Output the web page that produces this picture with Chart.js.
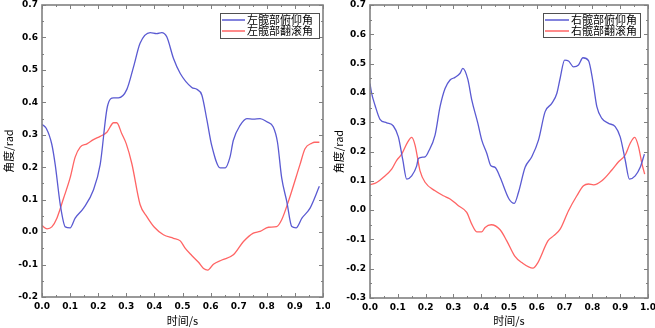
<!DOCTYPE html>
<html>
<head>
<meta charset="utf-8">
<script src="https://cdn.jsdelivr.net/npm/chart.js@4.4.1/dist/chart.umd.min.js"></script>
<style>
  html, body { margin: 0; padding: 0; background: #fff; }
  #wrap { position: relative; width: 655px; height: 328px; overflow: hidden; }
  canvas { position: absolute; top: 0; }
</style>
</head>
<body>
<div id="wrap">
  <canvas id="left" width="330" height="328" style="left:0"></canvas>
  <canvas id="right" width="325" height="328" style="left:330px"></canvas>
</div>
<script>
// left hip: pitch (blue) and roll (red)
const leftPitchT = [0, 0.015, 0.035, 0.047, 0.065, 0.083, 0.1, 0.118, 0.148, 0.183, 0.207, 0.233, 0.255, 0.272, 0.302, 0.326, 0.349, 0.385, 0.408, 0.426, 0.444, 0.468, 0.492, 0.533, 0.551, 0.569, 0.587, 0.604, 0.634, 0.652, 0.669, 0.681, 0.705, 0.729, 0.752, 0.776, 0.8, 0.823, 0.838, 0.853, 0.871, 0.889, 0.904, 0.925, 0.954, 0.987];
const leftPitch  = [0.332, 0.32, 0.27, 0.208, 0.085, 0.016, 0.013, 0.043, 0.074, 0.13, 0.208, 0.388, 0.414, 0.414, 0.44, 0.51, 0.582, 0.615, 0.612, 0.615, 0.602, 0.535, 0.489, 0.446, 0.44, 0.422, 0.345, 0.267, 0.198, 0.198, 0.231, 0.283, 0.329, 0.35, 0.348, 0.35, 0.34, 0.324, 0.277, 0.167, 0.095, 0.017, 0.013, 0.043, 0.074, 0.141];
const leftRollT = [0, 0.018, 0.035, 0.053, 0.077, 0.1, 0.118, 0.136, 0.16, 0.183, 0.207, 0.231, 0.255, 0.266, 0.284, 0.3, 0.32, 0.349, 0.373, 0.4, 0.432, 0.468, 0.492, 0.51, 0.533, 0.557, 0.575, 0.59, 0.61, 0.64, 0.681, 0.717, 0.752, 0.776, 0.806, 0.835, 0.853, 0.877, 0.918, 0.936, 0.96, 0.97, 0.987];
const leftRoll  = [0.02, 0.01, 0.016, 0.043, 0.105, 0.167, 0.231, 0.262, 0.272, 0.285, 0.295, 0.308, 0.337, 0.337, 0.303, 0.272, 0.21, 0.085, 0.048, 0.015, -0.008, -0.019, -0.027, -0.05, -0.072, -0.093, -0.112, -0.117, -0.099, -0.086, -0.07, -0.029, -0.003, 0.002, 0.015, 0.017, 0.038, 0.095, 0.208, 0.257, 0.274, 0.277, 0.277];

// right hip: pitch (blue) and roll (red)
const rightPitchT = [0, 0.006, 0.018, 0.036, 0.06, 0.084, 0.102, 0.118, 0.132, 0.15, 0.168, 0.174, 0.198, 0.21, 0.234, 0.252, 0.27, 0.288, 0.306, 0.324, 0.334, 0.352, 0.366, 0.388, 0.402, 0.42, 0.435, 0.45, 0.468, 0.5, 0.519, 0.534, 0.558, 0.582, 0.606, 0.63, 0.654, 0.672, 0.684, 0.7, 0.714, 0.732, 0.75, 0.766, 0.786, 0.802, 0.816, 0.834, 0.858, 0.882, 0.9, 0.918, 0.933, 0.954, 0.972, 0.987];
const rightPitch  = [0.432, 0.398, 0.358, 0.31, 0.298, 0.287, 0.25, 0.171, 0.106, 0.117, 0.151, 0.176, 0.182, 0.199, 0.256, 0.353, 0.415, 0.444, 0.453, 0.467, 0.484, 0.446, 0.376, 0.296, 0.239, 0.194, 0.151, 0.146, 0.112, 0.038, 0.023, 0.06, 0.146, 0.182, 0.239, 0.336, 0.364, 0.398, 0.45, 0.512, 0.509, 0.489, 0.495, 0.52, 0.51, 0.438, 0.353, 0.313, 0.296, 0.285, 0.25, 0.171, 0.106, 0.117, 0.146, 0.191];
const rightRollT = [0, 0.024, 0.048, 0.078, 0.096, 0.114, 0.136, 0.15, 0.162, 0.18, 0.198, 0.234, 0.264, 0.288, 0.318, 0.348, 0.366, 0.384, 0.402, 0.414, 0.436, 0.468, 0.492, 0.52, 0.546, 0.586, 0.604, 0.64, 0.66, 0.684, 0.714, 0.744, 0.768, 0.786, 0.804, 0.834, 0.87, 0.894, 0.918, 0.936, 0.952, 0.966, 0.978, 0.988];
const rightRoll  = [0.086, 0.094, 0.112, 0.14, 0.17, 0.191, 0.233, 0.248, 0.222, 0.134, 0.095, 0.066, 0.049, 0.038, 0.015, -0.008, -0.048, -0.074, -0.074, -0.059, -0.05, -0.067, -0.105, -0.156, -0.179, -0.198, -0.179, -0.105, -0.088, -0.065, -0.002, 0.049, 0.083, 0.089, 0.086, 0.1, 0.137, 0.165, 0.188, 0.228, 0.248, 0.216, 0.159, 0.123];

const leftLabels  = ['左髋部俯仰角', '左髋部翻滚角'];
const rightLabels = ['右髋部俯仰角', '右髋部翻滚角'];
const xTitle = '时间/s';
const yTitle = '角度/rad';

const BLUE = '#5a5ad2';
const RED = '#ff6464';
const tickFont = {family: 'DejaVu Sans', size: 9, weight: 'bold'};
const titleFont = {family: 'Noto Sans CJK SC', size: 11};

function pts(t, v) {
  return t.map((x, i) => ({x: x, y: v[i]}));
}

function fmt(v) {
  return (Math.abs(v) < 1e-9 ? 0 : v).toFixed(1);
}

// box frame with inward ticks on all four sides
const frameTicks = {
  id: 'frameTicks',
  afterDatasetsDraw(chart) {
    const {ctx, chartArea: a, scales: {x, y}} = chart;
    ctx.save();
    ctx.strokeStyle = '#808080';
    ctx.lineWidth = 1;
    ctx.beginPath();
    let n = Math.round((x.max - x.min) / 0.05);
    for (let i = 0; i <= n; i++) {
      let px = Math.round(x.getPixelForValue(x.min + i * 0.05)) + 0.5;
      let len = i % 2 === 0 ? 4 : 2;
      ctx.moveTo(px, a.bottom); ctx.lineTo(px, a.bottom - len);
      ctx.moveTo(px, a.top); ctx.lineTo(px, a.top + len);
    }
    n = Math.round((y.max - y.min) / 0.05);
    for (let i = 0; i <= n; i++) {
      let py = Math.round(y.getPixelForValue(y.min + i * 0.05)) + 0.5;
      let len = i % 2 === 0 ? 4 : 2;
      ctx.moveTo(a.left, py); ctx.lineTo(a.left + len, py);
      ctx.moveTo(a.right, py); ctx.lineTo(a.right - len, py);
    }
    ctx.stroke();
    ctx.lineWidth = 1.6;
    ctx.strokeRect(a.left, a.top, a.right - a.left, a.bottom - a.top);
    ctx.restore();
  }
};

// boxed legend in the upper right corner
const boxLegend = {
  id: 'boxLegend',
  afterDraw(chart, args, opts) {
    const {ctx, chartArea: a} = chart;
    let left = a.right - opts.inset - opts.width, top = a.top + opts.top;
    ctx.save();
    ctx.fillStyle = '#fff';
    ctx.fillRect(left, top, opts.width, opts.height);
    ctx.strokeStyle = '#505050';
    ctx.lineWidth = 1;
    ctx.strokeRect(left + 0.5, top + 0.5, opts.width, opts.height);
    ctx.font = '11px "Noto Sans CJK SC"';
    ctx.textBaseline = 'middle';
    chart.data.datasets.forEach((ds, i) => {
      let yy = top + 7 + i * 11;
      ctx.strokeStyle = ds.borderColor;
      ctx.lineWidth = 1.5;
      ctx.beginPath();
      ctx.moveTo(left + 2, yy); ctx.lineTo(left + 2 + opts.line, yy);
      ctx.stroke();
      ctx.fillStyle = '#000';
      ctx.fillText(ds.label, left + 4 + opts.line, yy);
    });
    ctx.restore();
  }
};

function makeChart(id, pitch, roll, labels, yMin, yW, xH, legend) {
  return new Chart(document.getElementById(id), {
    type: 'line',
    data: {
      datasets: [
        {label: labels[0], data: pitch, borderColor: BLUE, borderWidth: 1.3, pointRadius: 0, cubicInterpolationMode: 'monotone'},
        {label: labels[1], data: roll, borderColor: RED, borderWidth: 1.3, pointRadius: 0, cubicInterpolationMode: 'monotone'}
      ]
    },
    options: {
      responsive: false,
      animation: false,
      layout: {padding: {top: 5, right: 7, left: 0, bottom: 0}},
      plugins: {
        legend: {display: false},
        tooltip: {enabled: false},
        boxLegend: legend
      },
      scales: {
        x: {
          type: 'linear', min: 0, max: 1,
          afterFit: s => { s.height = xH; s.paddingLeft = 0; s.paddingRight = 0; },
          grid: {display: false, drawTicks: false},
          border: {display: false},
          ticks: {stepSize: 0.1, padding: 4, color: '#000', font: tickFont, maxRotation: 0, callback: fmt},
          title: {display: true, text: xTitle, color: '#000', font: titleFont, padding: {top: 0, bottom: 1}}
        },
        y: {
          type: 'linear', min: yMin, max: 0.7,
          afterFit: s => { s.width = yW; s.paddingTop = 0; s.paddingBottom = 0; },
          grid: {display: false, drawTicks: false},
          border: {display: false},
          ticks: {stepSize: 0.1, padding: 4, color: '#000', font: tickFont, callback: fmt},
          title: {display: true, text: yTitle, color: '#000', font: titleFont, padding: {top: 2, bottom: 0}}
        }
      }
    },
    plugins: [frameTicks, boxLegend]
  });
}

makeChart('left', pts(leftPitchT, leftPitch), pts(leftRollT, leftRoll), leftLabels, -0.2, 42, 31,
  {inset: 4, top: 8, width: 99, height: 25, line: 23});
makeChart('right', pts(rightPitchT, rightPitch), pts(rightRollT, rightRoll), rightLabels, -0.3, 40, 30,
  {inset: 8, top: 8, width: 97, height: 24, line: 24});
</script>
</body>
</html>
